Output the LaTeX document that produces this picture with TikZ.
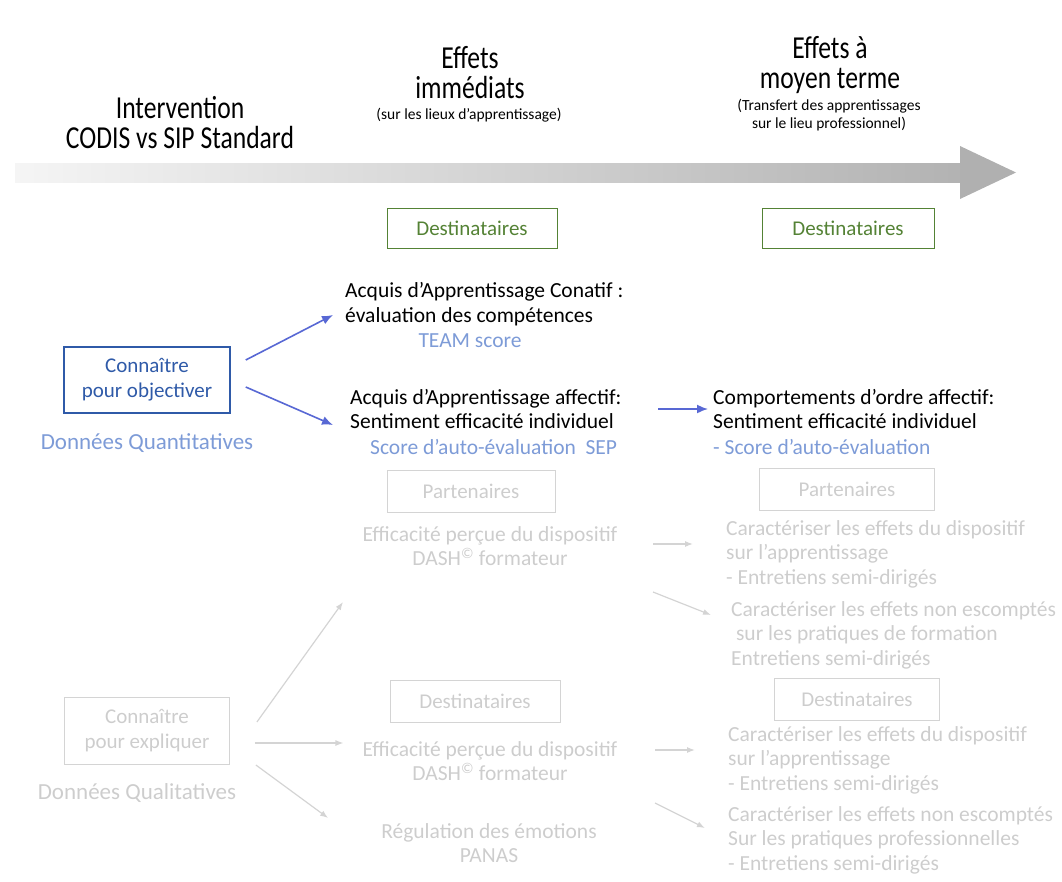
\documentclass[tikz,border=0pt]{standalone}
\usepackage{fontspec}
\setmainfont{Carlito}
\newfontfamily\headfont[FakeStretch=0.8]{Carlito}
\usetikzlibrary{calc, arrows.meta, positioning}
\definecolor{dgreen}{RGB}{84,130,53}
\definecolor{oblue}{RGB}{47,90,168}
\definecolor{lblue}{RGB}{125,155,215}
\definecolor{ablue}{RGB}{88,104,212}
\definecolor{fade}{RGB}{205,205,205}
\definecolor{fadeline}{RGB}{212,212,212}

\begin{document}
\begin{tikzpicture}[x=1pt, y=-1pt,
		head/.style={font=\headfont\fontsize{32}{30}\selectfont, align=center, inner sep=0pt},
		subhead/.style={font=\fontsize{15.5}{18}\selectfont, align=center, inner sep=0pt},
		txt/.style={font=\fontsize{21.5}{24.5}\selectfont, align=left, inner sep=0pt, anchor=west},
		ctxt/.style={font=\fontsize{21.5}{24.5}\selectfont, align=center, inner sep=0pt},
		destbox/.style={draw=dgreen, thick, text=dgreen, font=\fontsize{21}{24}\selectfont, minimum width=#1, minimum height=40pt, inner sep=0pt},
		fadebox/.style={draw=fadeline, thick, text=fade, font=\fontsize{21}{24}\selectfont, minimum width=#1, minimum height=42pt, inner sep=0pt},
		fadetxt/.style={txt, text=fade},
		fadectxt/.style={ctxt, text=fade},
		barrow/.style={draw=ablue, line width=1.6pt, -{Latex[length=11pt, width=9pt]}},
		farrow/.style={draw=fadeline, line width=1.2pt, -{Latex[length=8pt, width=6pt]}}
	]
	\useasboundingbox (0,0) rectangle (1062,881);
	
	% time line
	\shade[left color=gray!8, right color=gray!60] (15,163) rectangle (962,182);
	\fill[gray!62] (960,146) -- (1016,172.5) -- (960,199) -- cycle;
	
	\node[head] (hint) at (180,123) {Intervention\\CODIS vs SIP Standard};
	\node[head] (himm) at (470,73) {Effets\\immédiats};
	\node[subhead] (simm) at (469,115) {(sur les lieux d’apprentissage)};
	\node[head] (hmoy) at (830,65) {Effets à\\moyen terme};
	\node[subhead] (smoy) at (829,115) {(Transfert des apprentissages\\sur le lieu professionnel)};
	
	% quantitatif
	\node[destbox=170pt] (dest1) at (472,228) {Destinataires};
	\node[destbox=172pt] (dest2) at (848,228) {Destinataires};
	
	\node[draw=oblue, line width=1.5pt, text=oblue, font=\fontsize{21}{25}\selectfont, align=center, minimum width=166pt, minimum height=66pt, inner sep=0pt] (obj) at (147,380) {Connaître\\pour objectiver};
	\node[font=\fontsize{23}{26}\selectfont, inner sep=0pt, text=lblue] (quant) at (147,443) {Données Quantitatives};
	
	\node[txt] (acq1) at (345,304) {Acquis d’Apprentissage Conatif :\\évaluation des compétences};
	\node[ctxt, text=lblue] (team) at (470,341) {TEAM score};
	\node[txt] (acq2) at (350,409) {Acquis d’Apprentissage affectif:\\Sentiment efficacité individuel};
	\node[txt, text=lblue] (sep) at (370,447) {Score d’auto-évaluation\ \ SEP};
	\node[txt] (comp) at (713,409) {Comportements d’ordre affectif:\\Sentiment efficacité individuel};
	\node[txt, text=lblue] (comps) at (713,447) {- Score d’auto-évaluation};
	
	\draw[barrow] ($(obj.east)+(15,-20)$) -- ($(acq1.west)+(-12,11)$);
	\draw[barrow] ($(obj.east)+(15,7)$) -- ($(acq2.west)+(-17,16)$);
	\draw[barrow] ($(comp.west)+(-55,0)$) -- ($(comp.west)+(-5,0)$);
	
	% qualitatif
	\node[fadebox=168pt] (part1) at (471,491) {Partenaires};
	\node[fadebox=175pt] (part2) at (847,489) {Partenaires};
	\node[fadectxt] (eff1) at (490,546) {Efficacité perçue du dispositif\\DASH\textsuperscript{©} formateur};
	\node[fadetxt] (car1) at (726,554) {Caractériser les effets du dispositif\\sur l’apprentissage\\ - Entretiens semi-dirigés};
	\node[fadetxt] (car2) at (731,635) {Caractériser les effets non escomptés\\\ sur les pratiques de formation\\Entretiens semi-dirigés};
	
	\node[draw=fadeline, thick, text=fade, font=\fontsize{21}{25}\selectfont, align=center, minimum width=165pt, minimum height=67pt, inner sep=0pt] (expl) at (147,731) {Connaître\\pour expliquer};
	\node[font=\fontsize{23}{26}\selectfont, inner sep=0pt, text=fade] (qual) at (137,793) {Données Qualitatives};
	
	\node[fadebox=170pt] (dest3) at (475,701) {Destinataires};
	\node[fadebox=165pt] (dest4) at (857,699) {Destinataires};
	\node[fadectxt] (eff2) at (490,761) {Efficacité perçue du dispositif\\DASH\textsuperscript{©} formateur};
	\node[fadectxt] (reg) at (489,843) {Régulation des émotions\\PANAS};
	\node[fadetxt] (car3) at (728,760) {Caractériser les effets du dispositif\\sur l’apprentissage\\- Entretiens semi-dirigés};
	\node[fadetxt] (car4) at (728,840) {Caractériser les effets non escomptés\\Sur les pratiques professionnelles\\- Entretiens semi-dirigés};
	
	\coordinate (up) at (343,602);
	\draw[farrow] ($(expl.east)+(27,-9)$) -- (up);
	\draw[farrow] ($(expl.east)+(25,12)$) -- ($(eff2.west)+(-19,-18)$);
	\draw[farrow] ($(expl.east)+(26,34)$) -- ($(reg.west)+(-53,-25)$);
	
	\foreach \a/\b in {eff1/car1, eff2/car3}{
		\draw[farrow] ($(\b.west)+(-73,-10)$) -- ($(\b.west)+(-33,-10)$);
	};
	\draw[farrow] ($(car2.west)+(-78,-43)$) -- ($(car2.west)+(-20,-20)$);
	\draw[farrow] ($(car4.west)+(-73,-37)$) -- ($(car4.west)+(-23,-12)$);
	
\end{tikzpicture}
\end{document}
